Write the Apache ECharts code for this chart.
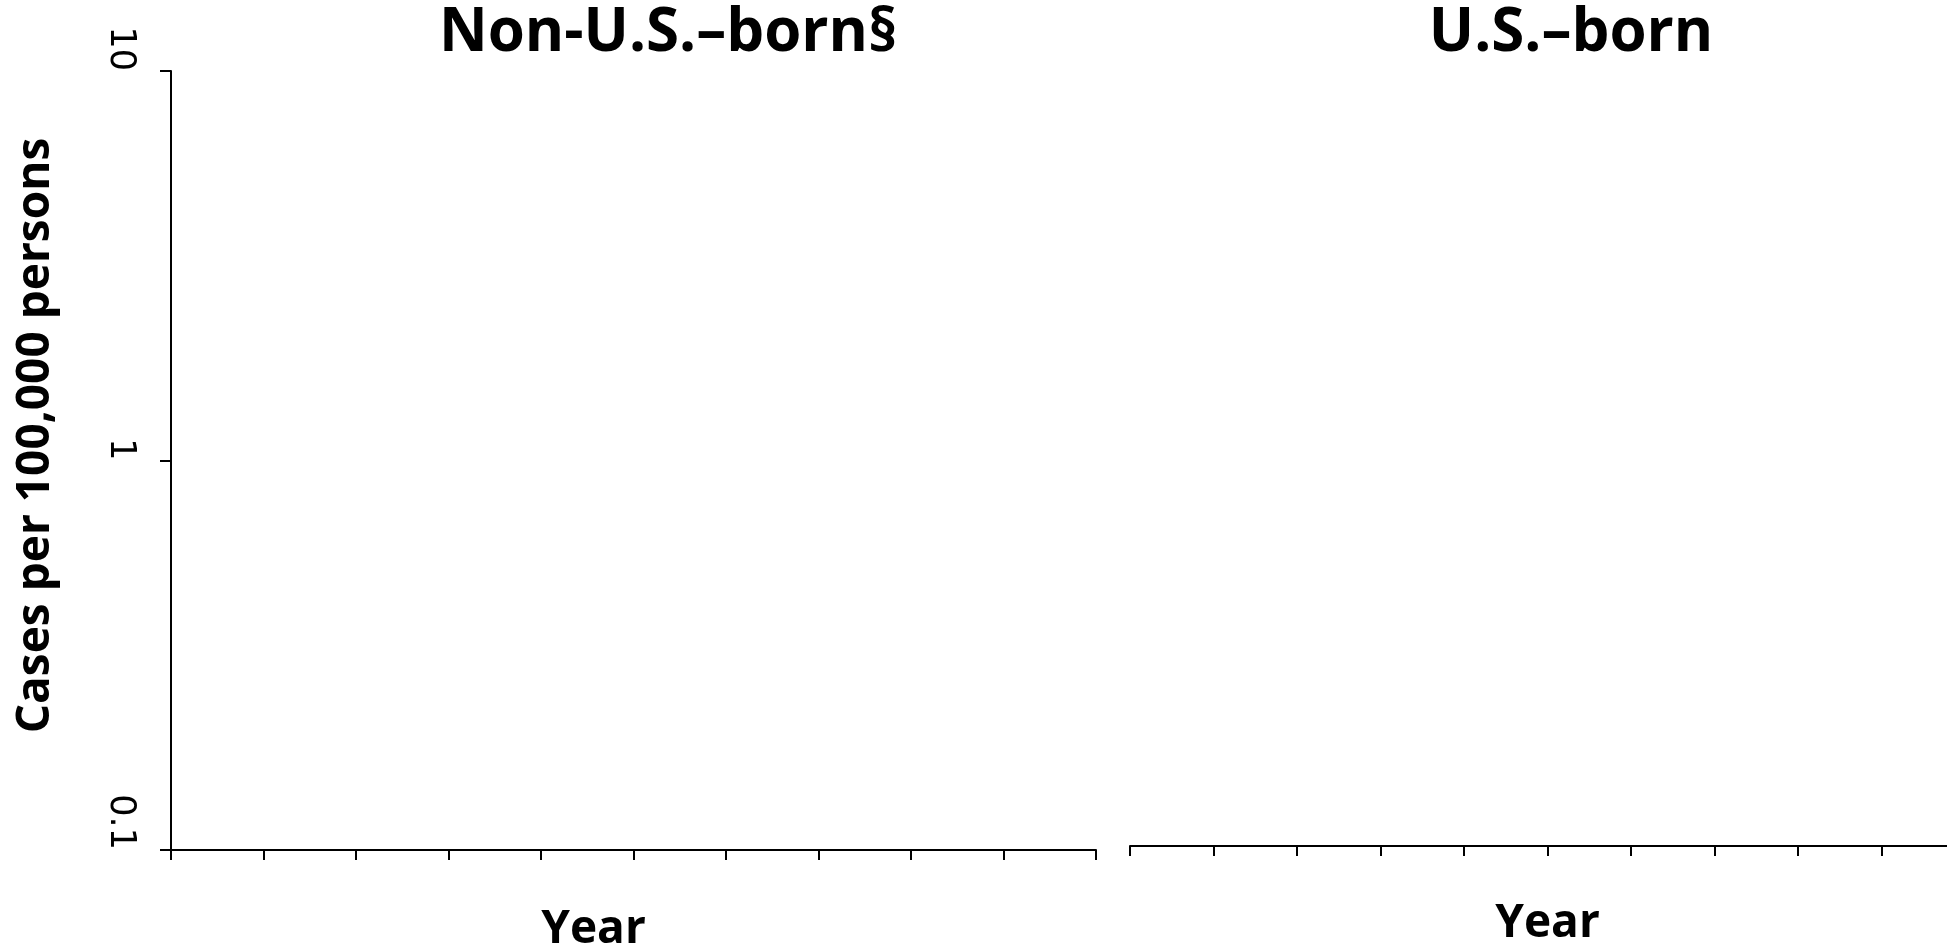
<!DOCTYPE html>
<html>
<head>
<meta charset="utf-8">
<script src="https://cdn.jsdelivr.net/npm/echarts@6/dist/echarts.min.js"></script>
<style>
html,body{margin:0;padding:0;background:#fff;}
#chart{width:1947px;height:946px;}
</style>
</head>
<body>
<div id="chart"></div>
<script>
// ---- data ----
const years = ['2010','2011','2012','2013','2014','2015','2016','2017','2018','2019','2020'];
const nonUSBorn = [];   // no plotted values visible in the reference
const usBorn = [];      // no plotted values visible in the reference
const yTickValues = [0.1, 1, 10];
const panelTitles = ['Non-U.S.\u2013born\u00a7', 'U.S.\u2013born'];
const yAxisTitle = 'Cases per 100,000 persons';
const xAxisTitle = 'Year';

const boldFont = '"Open Sans", "DejaVu Sans", sans-serif';
const ink = '#000';

const chart = echarts.init(document.getElementById('chart'), null, {renderer: 'canvas'});

function xAxisCfg(gridIndex, gap, namePadding) {
  return {
    type: 'category',
    gridIndex: gridIndex,
    data: years,
    boundaryGap: false,
    axisLine: {show: true, lineStyle: {color: ink, width: 2}},
    axisTick: {show: true, inside: false, length: 10, interval: 0, lineStyle: {color: ink, width: 2}},
    axisLabel: {show: false},
    splitLine: {show: false},
    name: xAxisTitle,
    nameLocation: 'middle',
    nameGap: gap,
    nameTextStyle: {fontFamily: boldFont, fontWeight: 'bold', fontSize: 46, color: ink, padding: namePadding}
  };
}

const option = {
  backgroundColor: '#fff',
  animation: false,
  title: [
    {text: panelTitles[0], left: 668, top: 4, textAlign: 'center', padding: 0,
     textStyle: {fontFamily: boldFont, fontWeight: 'bold', fontSize: 60, color: ink}},
    {text: panelTitles[1], left: 1571, top: 4, textAlign: 'center', padding: 0,
     textStyle: {fontFamily: boldFont, fontWeight: 'bold', fontSize: 60, color: ink}}
  ],
  grid: [
    {left: 171, top: 71, width: 925, bottom: 96, containLabel: false, outerBoundsMode: 'none'},
    {left: 1130, top: 71, width: 835, bottom: 100, containLabel: false, outerBoundsMode: 'none'}
  ],
  xAxis: [
    xAxisCfg(0, 57, [0, 80, 0, 0]),
    xAxisCfg(1, 55, [0, 0, 0, 0])
  ],
  yAxis: [
    {
      type: 'log', logBase: 10, gridIndex: 0,
      min: yTickValues[0], max: yTickValues[yTickValues.length - 1],
      axisLine: {show: true, lineStyle: {color: ink, width: 2}},
      axisTick: {show: true, inside: false, length: 11, lineStyle: {color: ink, width: 2}},
      minorTick: {show: false},
      splitLine: {show: false},
      axisLabel: {
        show: true, rotate: -90, margin: 51, align: 'right', verticalAlign: 'middle',
        fontFamily: '"DejaVu Sans", sans-serif', fontSize: 35, color: ink,
        formatter: function (v) { return String(+v.toPrecision(3)); }
      },
      name: yAxisTitle,
      nameLocation: 'middle',
      nameRotate: 90,
      nameGap: 112,
      nameTextStyle: {fontFamily: boldFont, fontWeight: 'bold', fontSize: 46, color: ink, padding: [0, 0, 0, 50]}
    },
    {
      type: 'log', logBase: 10, gridIndex: 1,
      min: yTickValues[0], max: yTickValues[yTickValues.length - 1],
      show: false
    }
  ],
  series: [
    {name: panelTitles[0], type: 'line', xAxisIndex: 0, yAxisIndex: 0, data: nonUSBorn, showSymbol: false, lineStyle: {color: ink}},
    {name: panelTitles[1], type: 'line', xAxisIndex: 1, yAxisIndex: 1, data: usBorn, showSymbol: false, lineStyle: {color: ink}}
  ]
};

chart.setOption(option);
</script>
</body>
</html>
